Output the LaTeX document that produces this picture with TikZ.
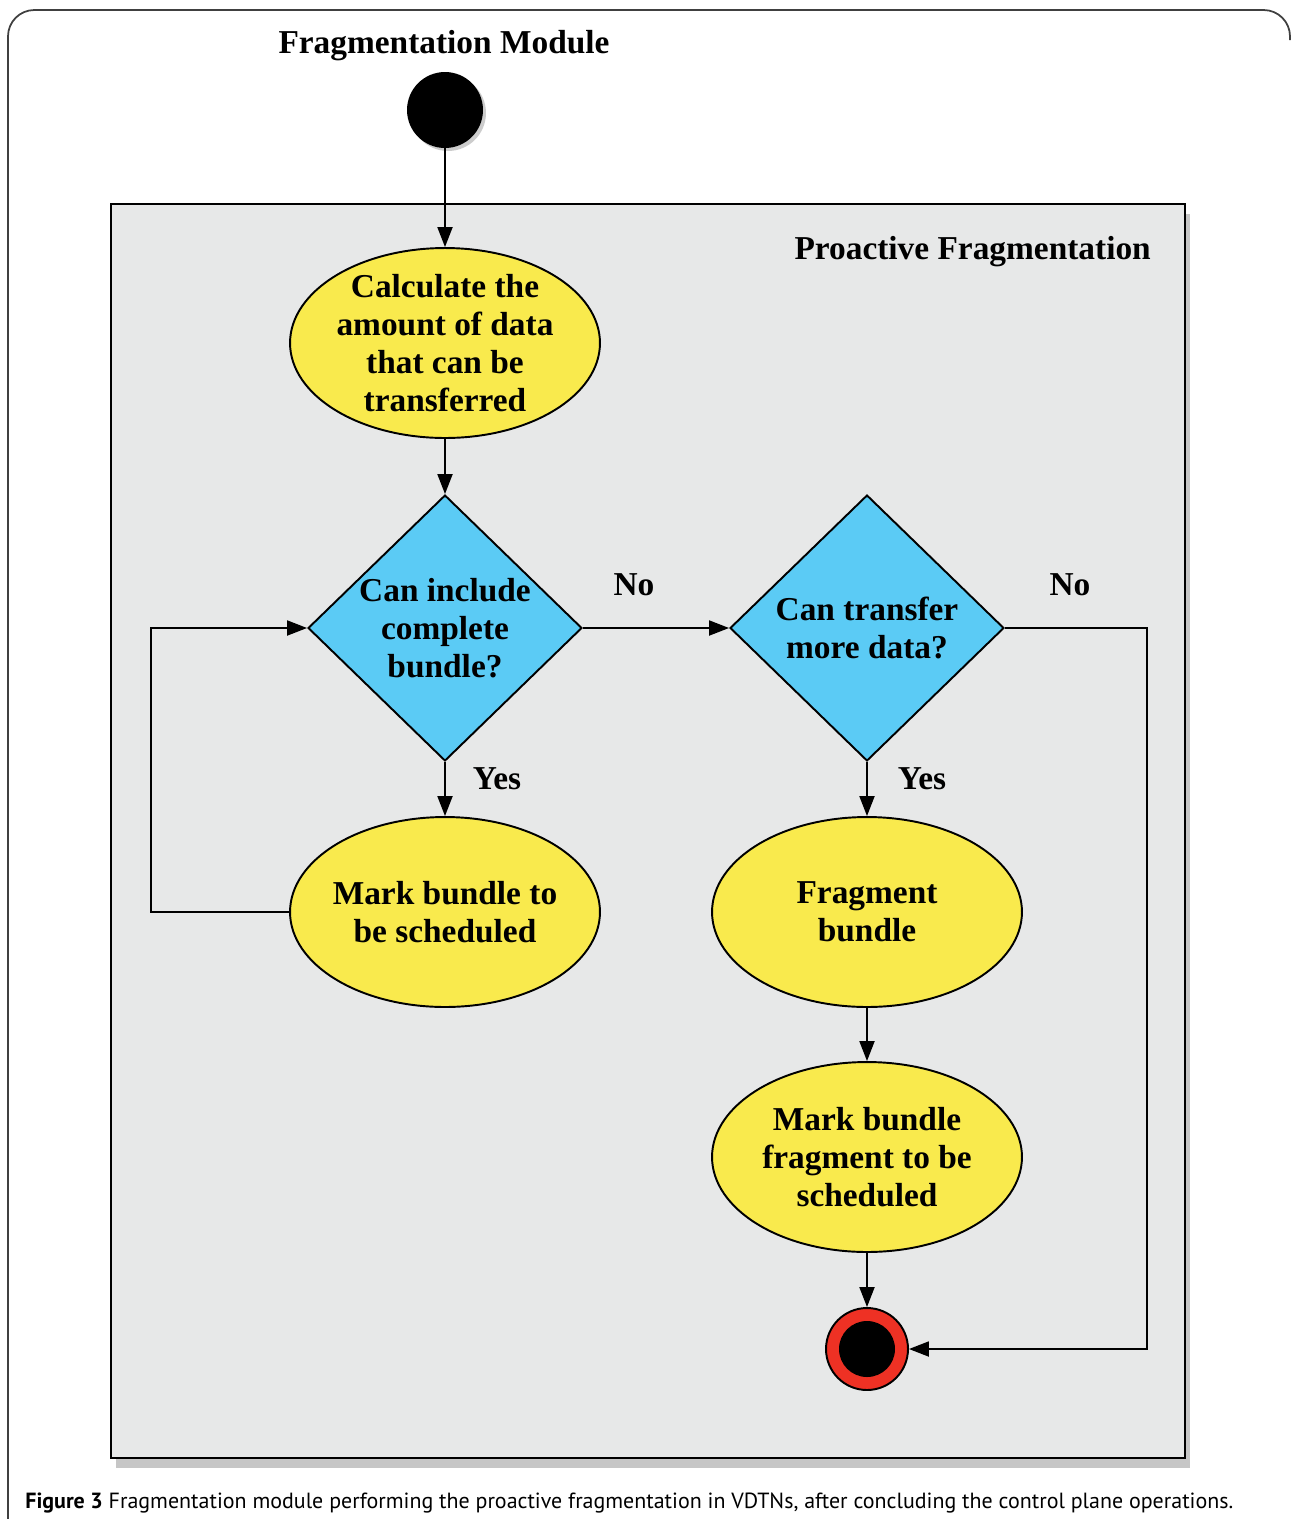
\documentclass[tikz,border=0pt]{standalone}
\usepackage{fontspec}
\setmainfont{Liberation Serif}
\newfontfamily\capfont{PT Sans}
\usepackage{xcolor}
\usepackage{tikz}
\usetikzlibrary{shapes.geometric, arrows.meta, positioning, shadows}

\definecolor{boxgray}{HTML}{E7E8E8}
\definecolor{stateyellow}{HTML}{F9EA4D}
\definecolor{choiceblue}{HTML}{5BCBF5}
\definecolor{ringred}{HTML}{EE3124}

\begin{document}
\begin{tikzpicture}[
        x=0.02cm, y=-0.02cm,
        txt/.style={font=\fontsize{19}{21.6}\selectfont\bfseries, align=center},
        state/.style={txt, ellipse, draw, line width=1.1pt, fill=stateyellow, minimum width=6.2cm, minimum height=3.8cm, inner xsep=-8pt, inner ysep=-8pt},
        choice/.style={txt, diamond, draw, line width=1.1pt, fill=choiceblue, minimum width=5.48cm, minimum height=5.32cm, inner sep=-12pt},
        lbl/.style={txt},
        arrow/.style={line width=1.1pt, -{Triangle[length=0.4cm, width=0.3cm]}}
    ]
        \useasboundingbox (0,0) rectangle (1292,1519);
        % outer frame
        \draw[line width=1pt, black!75, rounded corners=15] (8,1519) -- (8,10) -- (1290,10) -- (1290,40);
        \node[lbl] (mtitle) at (444,46) {Fragmentation Module};
        % proactive fragmentation panel
        \draw[line width=1.6pt, fill=boxgray, drop shadow={shadow xshift=0.1cm, shadow yshift=-0.2cm, opacity=0.45}] (111,204) rectangle (1185,1458);
        \node[lbl, anchor=east] (ptitle) at (1157,252) {Proactive Fragmentation};
        % start and end
        \node[circle, fill=black, minimum size=1.52cm, drop shadow={shadow xshift=0.06cm, shadow yshift=-0.06cm, opacity=0.4}] (start) at (445,110) {};
        \node[circle, draw, line width=1.1pt, fill=ringred, minimum size=1.64cm,
            path picture={\fill[black] (path picture bounding box.center) circle (0.56cm);}] (stop) at (867,1349) {};
        % states and choices
        \node[state] (calc) at (445,343) {Calculate the\\amount of data\\that can be\\transferred};
        \node[choice] (incl) at (445,628) {Can include\\complete\\bundle?};
        \node[choice] (more) at (867,628) {Can transfer\\more data?};
        \node[state] (mark) at (445,912) {Mark bundle to\\be scheduled};
        \node[state] (frag) at (867,912) {Fragment\\bundle};
        \node[state] (markfrag) at (867,1157) {Mark bundle\\fragment to be\\scheduled};
        \node[lbl] (no1) at (634,585) {No};
        \node[lbl] (no2) at (1070,585) {No};
        \node[lbl] (yes1) at (497,779) {Yes};
        \node[lbl] (yes2) at (922,779) {Yes};
        % connectors
        \draw[arrow] (start) -- (calc);
        \draw[arrow] (calc) -- (incl);
        \draw[arrow] (incl) -- (more);
        \draw[arrow] (incl) -- (mark);
        \draw[arrow] (more) -- (frag);
        \draw[arrow] (frag) -- (markfrag);
        \draw[arrow] (markfrag) -- (stop);
        \draw[arrow] (mark.west) -- ++(-138,0) |- (incl.west);
        \draw[arrow] (more.east) -- ++(142,0) |- (stop.east);
        % caption
        \node[anchor=west, inner sep=0pt, font=\capfont\fontsize{12.5}{14}\selectfont] (cap) at (25,1503)
            {\textbf{Figure 3} Fragmentation module performing the proactive fragmentation in VDTNs, after concluding the control plane operations.};
    \end{tikzpicture}
\end{document}
